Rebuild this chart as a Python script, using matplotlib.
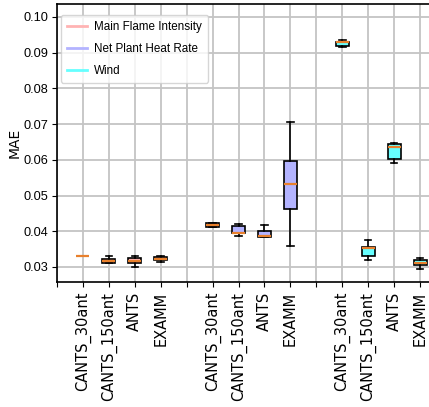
import matplotlib
matplotlib.use("Agg")
import matplotlib.pyplot as plt
from matplotlib.lines import Line2D

# ---- data ----
methods = ["CANTS_30ant", "CANTS_150ant", "ANTS", "EXAMM"]
series = ["Main Flame Intensity", "Net Plant Heat Rate", "Wind"]
series_colors = ["#ffb3b3", "#b3b3ff", "#66ffff"]

# per series, per method: (whislo, q1, med, q3, whishi)
main_flame = [
    (0.0332, 0.0332, 0.0332, 0.0332, 0.0332),
    (0.0310, 0.0310, 0.0317, 0.0322, 0.0332),
    (0.0299, 0.0311, 0.0318, 0.0326, 0.0330),
    (0.0314, 0.0320, 0.0323, 0.0327, 0.0331),
]
net_plant = [
    (0.0411, 0.0411, 0.0418, 0.0424, 0.0424),
    (0.0387, 0.0394, 0.0396, 0.0416, 0.0421),
    (0.0383, 0.0383, 0.0387, 0.0401, 0.0418),
    (0.0360, 0.0463, 0.0532, 0.0597, 0.0706),
]
wind = [
    (0.0917, 0.0919, 0.0929, 0.0931, 0.0934),
    (0.0320, 0.0331, 0.0352, 0.0355, 0.0376),
    (0.0592, 0.0603, 0.0637, 0.0644, 0.0648),
    (0.0295, 0.0305, 0.0312, 0.0320, 0.0326),
]
all_series = [main_flame, net_plant, wind]

yticks = [0.03, 0.04, 0.05, 0.06, 0.07, 0.08, 0.09, 0.10]

narrow = "Liberation Sans"

W, H = 429, 407
fig = plt.figure(figsize=(W / 100, H / 100), dpi=100)
left_px, right_px, top_px, bottom_px = 57, 446, 4, 282
aw, ah = right_px - left_px, bottom_px - top_px
ax = fig.add_axes([left_px / W, 1 - bottom_px / H, aw / W, ah / H])

ax.set_axisbelow(True)
ax.grid(True, color="#c4c4c4", linewidth=1.3)

for si, (data, color) in enumerate(zip(all_series, series_colors)):
    stats = []
    positions = []
    for mi, vals in enumerate(data):
        wl, q1, med, q3, wh = vals
        stats.append(dict(whislo=wl, q1=q1, med=med, q3=q3, whishi=wh, fliers=[]))
        positions.append(si * 5 + 1 + mi)
    ax.bxp(stats, positions=positions, widths=0.5, patch_artist=True,
           showfliers=False, manage_ticks=False,
           boxprops=dict(facecolor=color, edgecolor="black", linewidth=1.2),
           medianprops=dict(color="#e8802c", linewidth=1.6),
           whiskerprops=dict(color="black", linewidth=1.2),
           capprops=dict(color="black", linewidth=1.2))

labels = [""]
for g in range(3):
    labels += methods + ([""] if g < 2 else [])
ax.set_xticks(list(range(0, 15)))
ax.set_xticklabels(labels, rotation=90, fontsize=10.5, family="DejaVu Sans")
ax.set_xlim(0, 15)

ax.set_ylim(0.0258, 0.1036)
ax.set_yticks(yticks)
ax.set_yticklabels([f"{v:.2f}" for v in yticks], fontsize=9.2, family=narrow)
ax.tick_params(axis="y", pad=3)
ax.set_ylabel("MAE", fontsize=10, family="DejaVu Sans")
ax.yaxis.set_label_coords((22 - left_px) / aw, 0.5)

for sp in ax.spines.values():
    sp.set_color("black")
    sp.set_linewidth(1.2)

handles = [Line2D([0], [0], color=c, linewidth=2) for c in series_colors]
ax.legend(handles, series, loc="upper left",
          bbox_to_anchor=(4 / aw, 1 - 11 / ah), borderaxespad=0,
          prop=dict(family=narrow, size=8.4),
          handlelength=1.75, handletextpad=0.6, labelspacing=0.85,
          borderpad=0.5, framealpha=0.8, fancybox=True)

fig.savefig("out.png", dpi=100)
